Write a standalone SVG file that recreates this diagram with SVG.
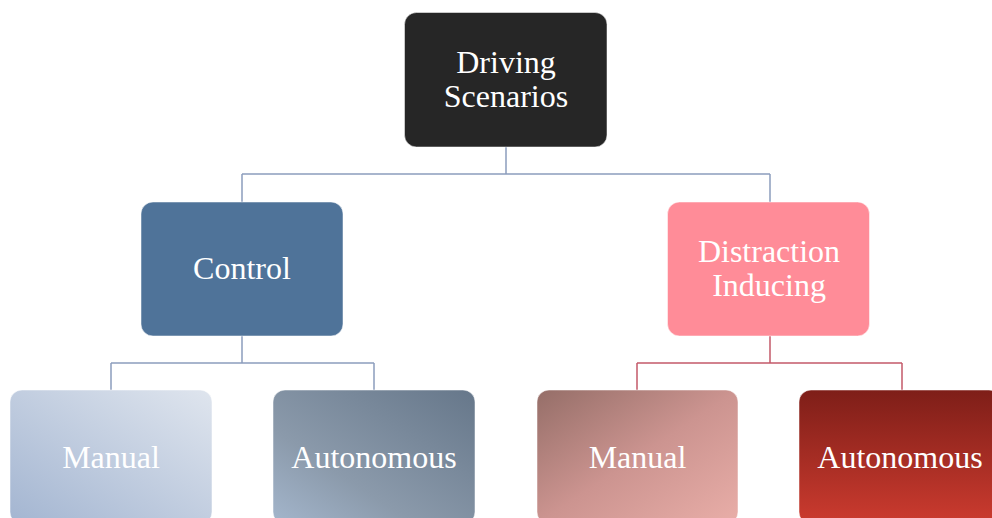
<svg xmlns="http://www.w3.org/2000/svg" width="992" height="518" viewBox="0 0 992 518">
<style>
.t{font-family:"Liberation Serif","Times New Roman",serif;font-size:32px;fill:#ffffff;text-anchor:middle}
.b{stroke:#ffffff;stroke-opacity:0.5;stroke-width:1}
.cb{fill:none;stroke:#8C9DBD;stroke-width:1.5}
.cr{fill:none;stroke:#C4596A;stroke-width:1.5}
</style>
<defs>
<linearGradient id="gML" x1="0" y1="1" x2="1" y2="0"><stop offset="0" stop-color="#A3B5D1"/><stop offset="1" stop-color="#DFE5EE"/></linearGradient>
<linearGradient id="gAL" x1="0" y1="1" x2="1" y2="0"><stop offset="0" stop-color="#A4B6CC"/><stop offset="0.35" stop-color="#8B9AAB"/><stop offset="1" stop-color="#66778A"/></linearGradient>
<linearGradient id="gMR" x1="0" y1="0" x2="1" y2="1"><stop offset="0" stop-color="#956E68"/><stop offset="0.5" stop-color="#CC9490"/><stop offset="1" stop-color="#E9AEA8"/></linearGradient>
<linearGradient id="gAR" x1="0" y1="0" x2="0" y2="1"><stop offset="0" stop-color="#7E1E18"/><stop offset="1" stop-color="#CC3B2F"/></linearGradient>
</defs>
<g id="connectors">
<path class="cb" d="M506 147 V174 M242 174 H770 M242 174 V202 M770 174 V202"/>
<path class="cb" d="M242 336 V363 M111 363 H374 M111 363 V390 M374 363 V390"/>
<path class="cr" d="M770 336 V363 M637 363 H902 M637 363 V390 M902 363 V390"/>
</g>
<g id="driving">
<rect class="b" x="404.5" y="12.5" width="202.5" height="134.5" rx="12" fill="#262626"/>
<text class="t" x="506" y="73">Driving</text>
<text class="t" x="506" y="107">Scenarios</text>
</g>
<g id="control">
<rect class="b" x="141" y="202" width="202" height="134" rx="12" fill="#4F7399"/>
<text class="t" x="242" y="279">Control</text>
</g>
<g id="distraction">
<rect class="b" x="667.5" y="202" width="202" height="134" rx="12" fill="#FF8C98"/>
<text class="t" x="769" y="262">Distraction</text>
<text class="t" x="769" y="296">Inducing</text>
</g>
<g id="manual-control">
<rect class="b" x="10" y="390" width="202" height="134" rx="12" fill="url(#gML)"/>
<text class="t" x="111" y="468">Manual</text>
</g>
<g id="autonomous-control">
<rect class="b" x="273" y="390" width="202" height="134" rx="12" fill="url(#gAL)"/>
<text class="t" x="374" y="468">Autonomous</text>
</g>
<g id="manual-distraction">
<rect class="b" x="537" y="390" width="201" height="134" rx="12" fill="url(#gMR)"/>
<text class="t" x="637.5" y="468">Manual</text>
</g>
<g id="autonomous-distraction">
<rect class="b" x="799" y="390" width="202" height="134" rx="12" fill="url(#gAR)"/>
<text class="t" x="900" y="468">Autonomous</text>
</g>
</svg>
